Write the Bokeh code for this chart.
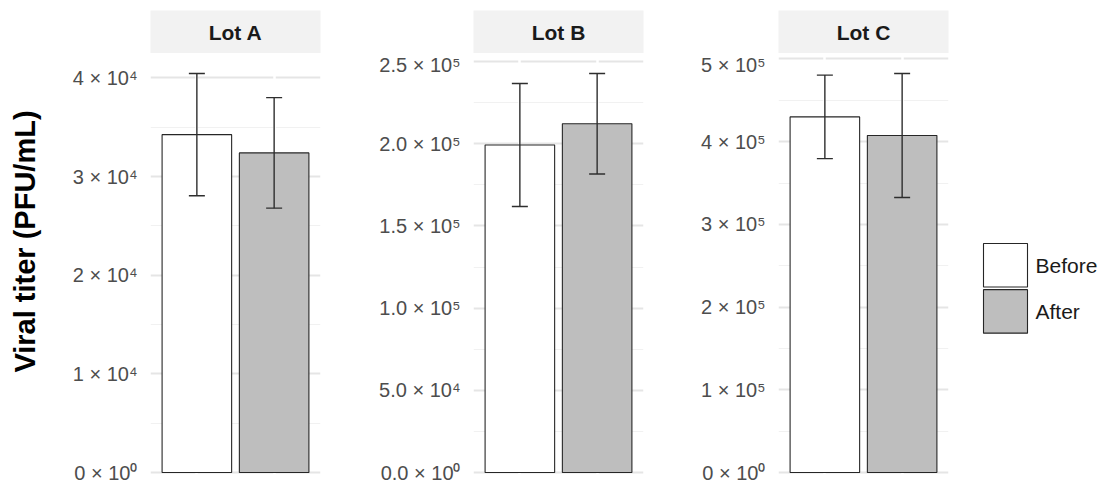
import math

from bokeh.plotting import figure
from bokeh.layouts import row, column
from bokeh.models import (Range1d, FixedTicker, Grid, Whisker, TeeHead,
                          ColumnDataSource, Label)
from bokeh.core.properties import value
from bokeh.embed import file_html
from bokeh.resources import INLINE

# ---- data -------------------------------------------------------------
lots = ["Lot A", "Lot B", "Lot C"]
conditions = ["Before", "After"]
fills = ["#ffffff", "#bebebe"]

before_mean = [34250, 199300, 430000]
after_mean = [32400, 212200, 407500]
before_sd = [6200, 37400, 50500]
after_sd = [5600, 30600, 75000]

ticks_a = [0, 10000, 20000, 30000, 40000]
labels_a = ["0 × 10⁰", "1 × 10⁴", "2 × 10⁴", "3 × 10⁴", "4 × 10⁴"]
ticks_b = [0, 50000, 100000, 150000, 200000, 250000]
labels_b = ["0.0 × 10⁰", "5.0 × 10⁴", "1.0 × 10⁵", "1.5 × 10⁵", "2.0 × 10⁵", "2.5 × 10⁵"]
ticks_c = [0, 100000, 200000, 300000, 400000, 500000]
labels_c = ["0 × 10⁰", "1 × 10⁵", "2 × 10⁵", "3 × 10⁵", "4 × 10⁵", "5 × 10⁵"]

panel_ticks = [ticks_a, ticks_b, ticks_c]
panel_labels = [labels_a, labels_b, labels_c]

y_title = "Viral titer (PFU/mL)"

# ---- layout / style ---------------------------------------------------
FONT = "Liberation Sans"
TOTAL_H = 492
TITLE_W = 46
FRAME_W = 170
STRIP_H = 53
MAIN_H = TOTAL_H - STRIP_H
left_borders = [104, 133, 115]
RIGHT = 20
BAR_LINE = "#262626"
ERR_LINE = "#2e2e2e"


def make_strip(lot, left):
    s = figure(width=left + FRAME_W + RIGHT, height=STRIP_H,
               x_range=Range1d(0, 1), y_range=Range1d(0, 1),
               x_axis_location=None, y_axis_location=None, title=None,
               min_border_left=left, min_border_right=RIGHT,
               min_border_top=10, min_border_bottom=0,
               toolbar_location=None, output_backend="svg")
    s.grid.visible = False
    s.outline_line_color = None
    s.background_fill_color = "#f2f2f2"
    s.add_layout(Label(x=0.5, y=0.5, text=lot, text_align="center",
                       text_baseline="middle", text_font=FONT,
                       text_font_style="bold", text_font_size="21px",
                       text_color="#1a1a1a"))
    return s


def make_panel(i, left):
    m = [before_mean[i], after_mean[i]]
    sd = [before_sd[i], after_sd[i]]
    src = ColumnDataSource(dict(
        x=[1, 2], top=m,
        upper=[a + b for a, b in zip(m, sd)],
        lower=[a - b for a, b in zip(m, sd)],
        fill=fills, cond=conditions))
    ymax = max(src.data["upper"])

    p = figure(width=left + FRAME_W + RIGHT, height=MAIN_H,
               x_range=Range1d(0.4, 2.6),
               y_range=Range1d(-0.05 * ymax, 1.05 * ymax),
               x_axis_location=None, title=None,
               min_border_left=left, min_border_right=RIGHT,
               min_border_top=0, min_border_bottom=0,
               toolbar_location=None, output_backend="svg")
    p.outline_line_color = None

    major = panel_ticks[i]
    step = major[1] - major[0]
    minor = [t + step / 2 for t in major]
    ticker = FixedTicker(ticks=major, minor_ticks=minor)

    ax = p.yaxis[0]
    ax.ticker = ticker
    ax.major_label_overrides = {t: lab for t, lab in zip(major, panel_labels[i])}
    ax.axis_line_color = None
    ax.major_tick_line_color = None
    ax.minor_tick_line_color = None
    ax.major_tick_out = 0
    ax.major_tick_in = 0
    ax.minor_tick_out = 0
    ax.minor_tick_in = 0
    ax.major_label_standoff = 13
    ax.major_label_text_font = FONT
    ax.major_label_text_font_size = "20px"
    ax.major_label_text_color = "#4d4d4d"

    p.xgrid.visible = False
    p.ygrid.ticker = ticker
    p.ygrid.grid_line_color = "#e5e5e5"
    p.ygrid.grid_line_width = 1.8
    p.ygrid.minor_grid_line_color = "#f1f1f1"
    p.ygrid.minor_grid_line_width = 1.2
    # white vertical lines at the category positions
    p.add_layout(Grid(dimension=0, ticker=FixedTicker(ticks=[1, 2]),
                      grid_line_color="#ffffff", grid_line_width=2.5), "center")

    p.vbar(x="x", top="top", bottom=0, width=0.9, source=src,
           fill_color="fill", line_color=BAR_LINE, line_width=1.1)

    w = Whisker(base="x", upper="upper", lower="lower", source=src,
                dimension="height", line_color=ERR_LINE, line_width=1.4,
                upper_head=TeeHead(size=16, line_color=ERR_LINE, line_width=1.4),
                lower_head=TeeHead(size=16, line_color=ERR_LINE, line_width=1.4))
    w.level = "annotation"
    p.add_layout(w)
    return p


# ---- shared y-axis title ------------------------------------------------
tf = figure(width=TITLE_W, height=TOTAL_H, x_range=Range1d(0, TITLE_W),
            y_range=Range1d(0, TOTAL_H), x_axis_location=None,
            y_axis_location=None, title=None, min_border=0,
            toolbar_location=None, output_backend="svg")
tf.grid.visible = False
tf.outline_line_color = None
tf.add_layout(Label(x=24, y=TOTAL_H - 241, text=y_title, angle=math.pi / 2,
                    text_align="center", text_baseline="middle",
                    text_font=FONT, text_font_style="bold",
                    text_font_size="29px", text_color="#000000"))

cols = [tf]
for i, lot in enumerate(lots):
    left = left_borders[i]
    cols.append(column(make_strip(lot, left), make_panel(i, left), spacing=0))

# ---- legend -------------------------------------------------------------
LEG_W = 1103 - TITLE_W - sum(l + FRAME_W + RIGHT for l in left_borders)
lg = figure(width=LEG_W, height=TOTAL_H, x_range=Range1d(0, LEG_W),
            y_range=Range1d(TOTAL_H, 0), x_axis_location=None,
            y_axis_location=None, title=None, min_border=0,
            toolbar_location=None, output_backend="svg")
lg.grid.visible = False
lg.outline_line_color = None
key_y = [264.7 + 46.2 * k for k in range(len(conditions))]
leg_src = ColumnDataSource(dict(y=key_y, cond=conditions, fill=fills))
lg.rect(x=37, y="y", width=44, height=43.5, source=leg_src,
        fill_color="fill", line_color=BAR_LINE, line_width=1.1)
lg.text(x=67, y="y", text="cond", source=leg_src,
        text_font=value(FONT), text_font_size=value("21px"),
        text_color="#1a1a1a", text_baseline="middle", text_align="left")

layout = row(*cols, lg, spacing=0)

with open("out.html", "w") as f:
    f.write(file_html(layout, INLINE))
